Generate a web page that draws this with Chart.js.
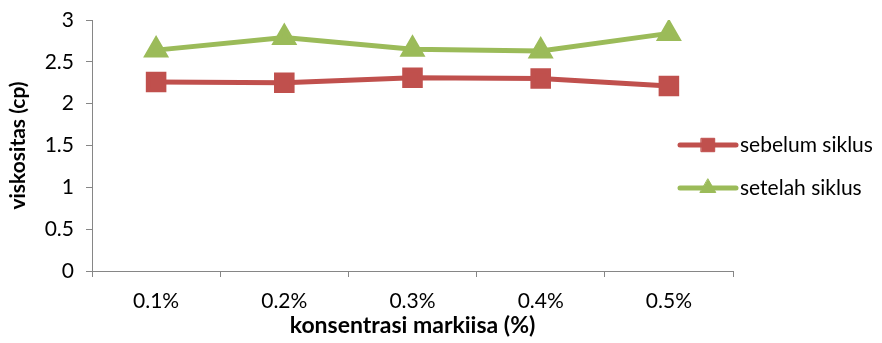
<!DOCTYPE html>
<html>
<head>
<meta charset="utf-8">
<script src="https://cdn.jsdelivr.net/npm/chart.js@4.4.1/dist/chart.umd.min.js"></script>
<style>
  html, body { margin: 0; padding: 0; background: #fff; }
  #wrap { width: 882px; height: 343px; position: relative; }
</style>
</head>
<body>
<div id="wrap"><canvas id="viscChart"></canvas></div>
<script>
const categories = ["0.1%", "0.2%", "0.3%", "0.4%", "0.5%"];
const sebelum = [2.26, 2.25, 2.31, 2.30, 2.21];
const setelah = [2.64, 2.79, 2.65, 2.63, 2.84];
const yTicks = [0, 0.5, 1, 1.5, 2, 2.5, 3];

const FONT = "Lato, 'Open Sans', sans-serif";
const AXIS = "#868686";

// legend: line + marker, drawn beside the plot like the original
const sideLegend = {
  id: "sideLegend",
  afterDraw(chart) {
    const c = chart.ctx;
    chart.data.datasets.forEach((ds, i) => {
      const y = 145 + i * 43;
      const x0 = 680, x1 = 736;
      c.save();
      c.strokeStyle = ds.borderColor;
      c.fillStyle = ds.borderColor;
      c.lineWidth = 5;
      c.lineCap = "round";
      c.beginPath();
      c.moveTo(x0, y);
      c.lineTo(x1, y);
      c.stroke();
      c.lineWidth = 1;
      Chart.helpers.drawPoint(c, {
        pointStyle: ds.pointStyle,
        radius: ds.pointStyle === "rect" ? 9.5 : 9,
        borderWidth: 1,
        rotation: 0,
      }, (x0 + x1) / 2, y);
      c.fillStyle = "#000";
      c.font = "21px " + FONT;
      c.textBaseline = "middle";
      c.textAlign = "left";
      c.fillText(ds.label, 740, y);
      c.restore();
    });
  },
};

new Chart(document.getElementById("viscChart"), {
  type: "line",
  data: {
    labels: categories,
    datasets: [
      {
        label: "sebelum siklus",
        data: sebelum,
        borderColor: "#C0504D",
        backgroundColor: "#C0504D",
        pointBackgroundColor: "#C0504D",
        pointBorderColor: "#C0504D",
        pointStyle: "rect",
        pointRadius: 11,
        borderWidth: 5,
        tension: 0,
      },
      {
        label: "setelah siklus",
        data: setelah,
        borderColor: "#9BBB59",
        backgroundColor: "#9BBB59",
        pointBackgroundColor: "#9BBB59",
        pointBorderColor: "#9BBB59",
        pointStyle: "triangle",
        pointRadius: 10,
        borderWidth: 5,
        tension: 0,
      },
    ],
  },
  options: {
    responsive: true,
    maintainAspectRatio: false,
    animation: false,
    layout: { padding: { top: 20, right: 149, left: 0, bottom: 0 } },
    plugins: { legend: { display: false }, tooltip: { enabled: false } },
    scales: {
      x: {
        offset: true,
        grid: { offset: true, drawOnChartArea: false, color: AXIS, tickLength: 6 },
        border: { color: AXIS, width: 1 },
        ticks: { color: "#000", font: { family: FONT, size: 21 }, padding: 12 },
        title: {
          display: true,
          text: "konsentrasi markiisa (%)",
          color: "#000",
          font: { family: FONT, size: 23, weight: "bold" },
          padding: { top: 0 },
        },
        afterFit(scale) { scale.height = 72; },
      },
      y: {
        min: 0,
        max: 3,
        afterBuildTicks(scale) { scale.ticks = yTicks.map((v) => ({ value: v })); },
        grid: { drawOnChartArea: false, color: AXIS, tickLength: 6 },
        border: { color: AXIS, width: 1 },
        ticks: {
          color: "#000",
          font: { family: FONT, size: 21, lineHeight: 0.5 },
          padding: 12,
          callback: (v) => String(v),
        },
        title: {
          display: true,
          text: "viskositas (cp)",
          color: "#000",
          font: { family: FONT, size: 21, weight: "bold" },
          padding: { top: 6, bottom: 4 },
        },
        afterFit(scale) { scale.width = 92; },
      },
    },
  },
  plugins: [sideLegend],
});
</script>
</body>
</html>
